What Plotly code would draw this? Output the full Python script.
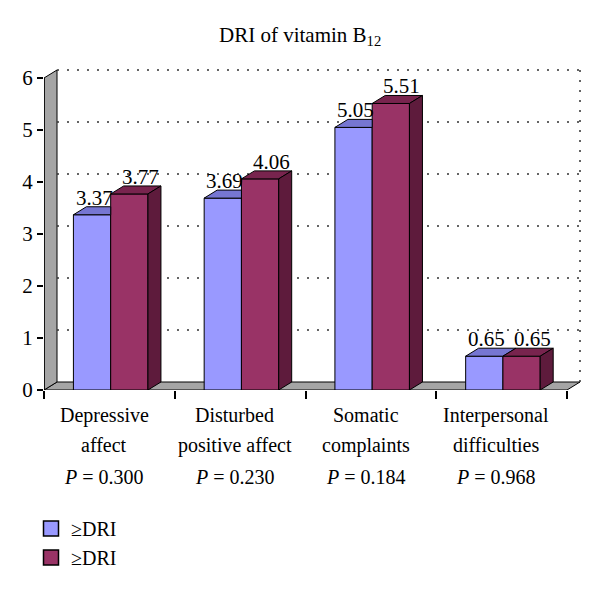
import plotly.graph_objects as go

# ---------------- data ----------------
cat_line1 = ["Depressive", "Disturbed", "Somatic", "Interpersonal"]
cat_line2 = ["affect", "positive affect", "complaints", "difficulties"]
p_values = ["0.300", "0.230", "0.184", "0.968"]
series_names = ["≥DRI", "≥DRI"]
values_a = [3.37, 3.69, 5.05, 0.65]
values_b = [3.77, 4.06, 5.51, 0.65]
y_ticks = [0, 1, 2, 3, 4, 5, 6]
title_text = "DRI of vitamin B<sub>12</sub>"

# ---------------- style / geometry ----------------
# the page body has an 8px margin, so the figure is laid out 8px smaller / shifted
OFS = 8
W, H = 600 - OFS, 590 - OFS
ML, MR, MT, MB = 44 - OFS, 10, 60 - OFS, 200
PW, PH = W - ML - MR, H - MT - MB
PX_X = 130.75          # pixels per category
PX_Y = 52.0            # pixels per unit
XMIN = -0.5
XMAX = XMIN + PW / PX_X
YMAX = PH / PX_Y
DX = 13 / PX_X         # 3-D depth offset (x)
DY = 8 / PX_Y          # 3-D depth offset (y)
BW = 0.285
OFF_A, OFF_B = -0.275, 0.01
FONT = "Liberation Serif"
C_A, C_A_TOP = "#9999FF", "#7676D2"
C_B, C_B_TOP, C_B_SIDE = "#993366", "#78244E", "#5E1B3C"
GRAY = "#A5A5A5"

n = len(values_a)
xs = list(range(n))

fig = go.Figure()

# front faces (bars)
fig.add_trace(go.Bar(x=xs, y=values_a, width=[BW] * n, offset=OFF_A, name=series_names[0],
                     marker=dict(color=C_A, line=dict(color="black", width=1)),
                     hoverinfo="skip", showlegend=False))
fig.add_trace(go.Bar(x=xs, y=values_b, width=[BW] * n, offset=OFF_B, name=series_names[1],
                     marker=dict(color=C_B, line=dict(color="black", width=1)),
                     hoverinfo="skip", showlegend=False))


def poly(px, py, color):
    fig.add_trace(go.Scatter(x=px + [px[0]], y=py + [py[0]], mode="lines", fill="toself",
                             fillcolor=color, line=dict(color="black", width=1),
                             hoverinfo="skip", showlegend=False))


for i in range(n):
    v, r = values_a[i], values_b[i]
    x0 = i + OFF_A
    x1 = x0 + BW
    x1b = i + OFF_B
    x2 = x1b + BW
    # top of series A, clipped by the front face of series B
    if r >= v + DY:
        px = [x0, x1, x1, x0 + DX]
        py = [v, v, v + DY, v + DY]
    elif r <= v:
        px = [x0, x1, x1 + DX, x0 + DX]
        py = [v, v, v + DY, v + DY]
    else:
        xd = x1 + DX * (r - v) / DY
        px = [x0, x1, x1, xd, x1 + DX, x0 + DX]
        py = [v, v, r, r, v + DY, v + DY]
    poly(px, py, C_A_TOP)
    # top and side of series B
    poly([x1b, x2, x2 + DX, x1b + DX], [r, r, r + DY, r + DY], C_B_TOP)
    poly([x2, x2 + DX, x2 + DX, x2], [0, DY, r + DY, r], C_B_SIDE)

# legend entries
for name, col in ((series_names[0], C_A), (series_names[1], C_B)):
    fig.add_trace(go.Scatter(x=[None], y=[None], mode="markers", name=name,
                             marker=dict(symbol="square", size=15, color=col,
                                         line=dict(color="black", width=1.5))))

# value labels
for i in range(n):
    fig.add_annotation(x=i + OFF_A + BW / 2 + 0.015, y=values_a[i], text=f"{values_a[i]:.2f}",
                       showarrow=False, yshift=17, yanchor="middle",
                       font=dict(family=FONT, size=21, color="black"))
    fig.add_annotation(x=i + OFF_B + BW / 2 + 0.085, y=values_b[i], text=f"{values_b[i]:.2f}",
                       showarrow=False, yshift=17, yanchor="middle",
                       font=dict(family=FONT, size=21, color="black"))


def py_paper(ypx):
    # ypx: target pixel row on the 600x590 screen
    return (H - MB - (ypx - OFS)) / PH


def px_paper(xpx):
    return (xpx - OFS - ML) / PW


# title
fig.add_annotation(x=px_paper(300), xref="paper", y=py_paper(36), yref="paper", text=title_text,
                   showarrow=False, xanchor="center", yanchor="middle",
                   font=dict(family=FONT, size=21, color="black"))

# category labels
for i in range(n):
    for txt, ypx in ((cat_line1[i], 415), (cat_line2[i], 445), (f"<i>P</i> = {p_values[i]}", 477)):
        fig.add_annotation(x=i - 0.04, xref="x", y=py_paper(ypx), yref="paper", text=txt,
                           showarrow=False, yanchor="middle", xanchor="center",
                           font=dict(family=FONT, size=20, color="black"))

# walls, floor, gridlines
shapes = []
ymax_t = max(y_ticks)
xr = XMIN + n  # right end of category axis
shapes.append(dict(type="path", layer="below",
                   path=f"M{XMIN},0 L{xr},0 L{xr + DX},{DY} L{XMIN + DX},{DY} Z",
                   fillcolor=GRAY, line=dict(color="black", width=1)))
shapes.append(dict(type="path", layer="below",
                   path=f"M{XMIN},0 L{XMIN},{ymax_t} L{XMIN + DX},{ymax_t + DY} L{XMIN + DX},{DY} Z",
                   fillcolor=GRAY, line=dict(color="black", width=1)))
for t in y_ticks[1:]:
    shapes.append(dict(type="line", layer="below", x0=XMIN + DX, x1=xr + DX, y0=t + DY, y1=t + DY,
                       line=dict(color="#333333", width=1.5, dash="2px,8px")))
shapes.append(dict(type="line", layer="below", x0=xr + DX, x1=xr + DX, y0=DY, y1=ymax_t + DY,
                   line=dict(color="#333333", width=1.5, dash="2px,8px")))
# left axis line
shapes.append(dict(type="line", layer="above", x0=XMIN, x1=XMIN, y0=0, y1=ymax_t,
                   line=dict(color="black", width=1.5)))

fig.update_layout(
    width=W, height=H,
    margin=dict(l=ML, r=MR, t=MT, b=MB, autoexpand=False),
    paper_bgcolor="white", plot_bgcolor="white",
    barmode="overlay",
    shapes=shapes,
    showlegend=True,
    legend=dict(x=px_paper(31), xanchor="left", y=py_paper(509), yanchor="top",
                font=dict(family=FONT, size=20, color="black"),
                bgcolor="rgba(0,0,0,0)", traceorder="normal", itemclick=False,
                tracegroupgap=0),
    xaxis=dict(range=[XMIN, XMAX], tickvals=[XMIN + k for k in range(n + 1)],
               showticklabels=False, ticks="outside", ticklen=8, tickcolor="black",
               tickwidth=1.5, showgrid=False, zeroline=False, showline=False, fixedrange=True),
    yaxis=dict(range=[0, YMAX], tickvals=y_ticks, ticks="outside", ticklen=6,
               tickcolor="black", tickwidth=1.5, showgrid=False, zeroline=False,
               showline=False, tickfont=dict(family=FONT, size=21, color="black"),
               fixedrange=True),
)

fig.write_html("out.html")
